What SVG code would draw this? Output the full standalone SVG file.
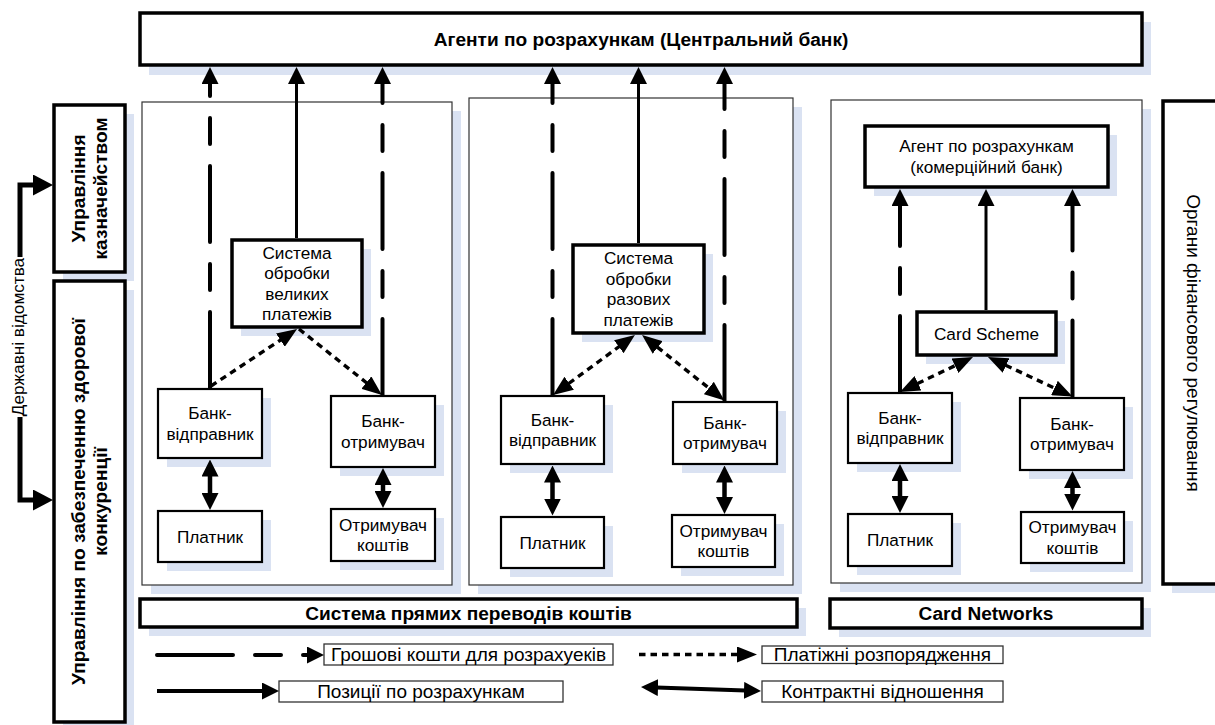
<svg xmlns="http://www.w3.org/2000/svg" width="1215" height="725" viewBox="0 0 1215 725">
<defs>
<style>
text{font-family:"Liberation Sans",Arial,sans-serif;fill:#000}
.t{font-size:17.2px;text-anchor:middle}
.b{font-size:19.1px;font-weight:bold;text-anchor:middle}
.lt{font-size:19px;text-anchor:middle}
.sh{fill:#DAE2F2}
.panel{fill:#fff;stroke:#333;stroke-width:1.2}
.thick{fill:#fff;stroke:#000;stroke-width:3.5}
.thin{fill:#fff;stroke:#000;stroke-width:2.2}
.leg{fill:#fff;stroke:#333;stroke-width:1.3}
.solid{stroke:#000;stroke-width:3;fill:none}
.dash{stroke:#000;stroke-width:4;fill:none;stroke-dasharray:76 22 26 22;stroke-linecap:round}
.dot{stroke:#000;stroke-width:3.4;fill:none;stroke-dasharray:6.5 5}
.dbl{stroke:#000;stroke-width:4.5;fill:none}
.brk{stroke:#000;stroke-width:5;fill:none}
</style>
<marker id="ah" viewBox="0 0 17 17" refX="9" refY="8.5" markerWidth="17" markerHeight="17" markerUnits="userSpaceOnUse" orient="auto-start-reverse"><path d="M0,0 L17,8.5 L0,17 z" fill="#000"/></marker>
<marker id="ahd" viewBox="0 0 20 16" refX="12" refY="8" markerWidth="20" markerHeight="16" markerUnits="userSpaceOnUse" orient="auto-start-reverse"><path d="M0,0 L20,8 L0,16 z" fill="#000"/></marker>
<marker id="ahb" viewBox="0 0 20 21" refX="12" refY="10.5" markerWidth="20" markerHeight="21" markerUnits="userSpaceOnUse" orient="auto-start-reverse"><path d="M0,0 L20,10.5 L0,21 z" fill="#000"/></marker>
</defs>
<rect width="1215" height="725" fill="#fff"/>

<!-- panels -->
<g id="panel1"><rect class="sh" x="151" y="111" width="310" height="483"/><rect class="panel" x="142" y="102" width="310" height="483"/></g>
<g id="panel2"><rect class="sh" x="478" y="107" width="324" height="487"/><rect class="panel" x="469" y="98" width="324" height="487"/></g>
<g id="panel3"><rect class="sh" x="840" y="109" width="311" height="483"/><rect class="panel" x="831" y="100" width="311" height="483"/></g>

<g id="central-bank"><rect class="sh" x="149" y="22" width="1002" height="53"/><rect class="thick" x="140" y="13" width="1002" height="52"/><text class="b" x="641" y="45.5">Агенти по розрахункам (Центральний банк)</text></g>

<g id="treasury"><rect class="sh" x="63" y="114" width="71" height="167"/><rect class="thick" x="54" y="105" width="71" height="167"/><text class="b" transform="translate(89.5,188.5) rotate(-90)"><tspan x="0" y="-4.5">Управління</tspan><tspan x="0" y="17.5">казначейством</tspan></text></g>
<g id="competition"><rect class="sh" x="63" y="290" width="71" height="441"/><rect class="thick" x="54" y="281" width="71" height="441"/><text class="b" transform="translate(89.5,501.5) rotate(-90)"><tspan x="0" y="-4.5">Управління по забезпеченню здорової</tspan><tspan x="0" y="17.5">конкуренції</tspan></text></g>
<g id="regulators"><rect class="sh" x="1172" y="110" width="70" height="483"/><rect class="thick" x="1163" y="101" width="70" height="483"/><text class="lt" transform="translate(1187,343) rotate(90)" x="0" y="0">Органи фінансового регулювання</text></g>
<g id="gov"><text class="t" transform="translate(24,337) rotate(-90)" x="0" y="0">Державні відомства</text></g>

<!-- panel 1 nodes -->
<g id="lvps"><rect class="sh" x="241" y="249" width="130" height="87"/><rect class="thick" x="232" y="240" width="130" height="87"/><text class="t"><tspan x="297" y="258.6">Система</tspan><tspan x="297" y="279.2">обробки</tspan><tspan x="297" y="299.8">великих</tspan><tspan x="297" y="320.4">платежів</tspan></text></g>
<g id="sender1"><rect class="sh" x="167" y="398" width="104" height="69"/><rect class="thin" x="158" y="389" width="104" height="69"/><text class="t"><tspan x="210" y="419.2">Банк-</tspan><tspan x="210" y="439.8">відправник</tspan></text></g>
<g id="receiver1"><rect class="sh" x="340" y="405" width="104" height="71"/><rect class="thin" x="331" y="396" width="104" height="71"/><text class="t"><tspan x="383" y="427.2">Банк-</tspan><tspan x="383" y="447.8">отримувач</tspan></text></g>
<g id="payer1"><rect class="sh" x="167" y="520" width="104" height="51"/><rect class="thin" x="158" y="511" width="104" height="51"/><text class="t" x="210" y="542.5">Платник</text></g>
<g id="payee1"><rect class="sh" x="340" y="518" width="104" height="52"/><rect class="thin" x="331" y="509" width="104" height="52"/><text class="t"><tspan x="383" y="530.7">Отримувач</tspan><tspan x="383" y="551.3">коштів</tspan></text></g>

<!-- panel 2 nodes -->
<g id="rps"><rect class="sh" x="582" y="254" width="131" height="88"/><rect class="thick" x="573" y="245" width="131" height="88"/><text class="t"><tspan x="638.5" y="264.1">Система</tspan><tspan x="638.5" y="284.7">обробки</tspan><tspan x="638.5" y="305.3">разових</tspan><tspan x="638.5" y="325.9">платежів</tspan></text></g>
<g id="sender2"><rect class="sh" x="510" y="405" width="103" height="68"/><rect class="thin" x="501" y="396" width="103" height="68"/><text class="t"><tspan x="552.5" y="425.7">Банк-</tspan><tspan x="552.5" y="446.3">відправник</tspan></text></g>
<g id="receiver2"><rect class="sh" x="682" y="411" width="104" height="62"/><rect class="thin" x="673" y="402" width="104" height="62"/><text class="t"><tspan x="725" y="428.7">Банк-</tspan><tspan x="725" y="449.3">отримувач</tspan></text></g>
<g id="payer2"><rect class="sh" x="510" y="526" width="103" height="51"/><rect class="thin" x="501" y="517" width="103" height="51"/><text class="t" x="552.5" y="548.5">Платник</text></g>
<g id="payee2"><rect class="sh" x="681" y="524" width="103" height="52"/><rect class="thin" x="672" y="515" width="103" height="52"/><text class="t"><tspan x="723.5" y="536.7">Отримувач</tspan><tspan x="723.5" y="557.3">коштів</tspan></text></g>

<!-- panel 3 nodes -->
<g id="agent"><rect class="sh" x="874" y="135" width="243" height="61"/><rect class="thick" x="865" y="126" width="243" height="61"/><text class="t"><tspan x="986.5" y="152.2">Агент по розрахункам</tspan><tspan x="986.5" y="172.8">(комерційний банк)</tspan></text></g>
<g id="card-scheme"><rect class="sh" x="926" y="321" width="139" height="43"/><rect class="thick" x="917" y="312" width="139" height="43"/><text class="t" x="986.5" y="339.5">Card Scheme</text></g>
<g id="sender3"><rect class="sh" x="857" y="402" width="104" height="70"/><rect class="thin" x="848" y="393" width="104" height="70"/><text class="t"><tspan x="900" y="423.7">Банк-</tspan><tspan x="900" y="444.3">відправник</tspan></text></g>
<g id="receiver3"><rect class="sh" x="1029" y="407" width="104" height="72"/><rect class="thin" x="1020" y="398" width="104" height="72"/><text class="t"><tspan x="1072" y="429.7">Банк-</tspan><tspan x="1072" y="450.3">отримувач</tspan></text></g>
<g id="payer3"><rect class="sh" x="857" y="523" width="104" height="52"/><rect class="thin" x="848" y="514" width="104" height="52"/><text class="t" x="900" y="546">Платник</text></g>
<g id="payee3"><rect class="sh" x="1030" y="521" width="103" height="51"/><rect class="thin" x="1021" y="512" width="103" height="51"/><text class="t"><tspan x="1072.5" y="533.2">Отримувач</tspan><tspan x="1072.5" y="553.8">коштів</tspan></text></g>

<!-- bars -->
<g id="direct-transfer"><rect class="sh" x="149" y="608" width="657" height="28"/><rect class="thick" x="140" y="599" width="657" height="28"/><text class="b" x="468.5" y="619.5">Система прямих переводів коштів</text></g>
<g id="card-networks"><rect class="sh" x="839" y="608" width="312" height="29"/><rect class="thick" x="830" y="599" width="312" height="29"/><text class="b" x="986" y="620">Card Networks</text></g>

<!-- legend -->
<g id="legend">
<rect class="leg" x="324" y="644" width="289" height="21"/><text class="lt" x="468.5" y="661.2">Грошові кошти для розрахуеків</text>
<rect class="leg" x="762" y="646" width="241" height="17.5"/><text class="lt" x="882.5" y="661">Платіжні розпорядження</text>
<rect class="leg" x="279" y="681" width="284" height="21"/><text class="lt" x="421" y="698">Позиції по розрахункам</text>
<rect class="leg" x="762" y="681" width="241" height="21"/><text class="lt" x="882.5" y="698">Контрактні відношення</text>
</g>

<!-- connectors -->
<g id="connectors">
<path class="dash" d="M210,388 V75" marker-end="url(#ah)"/>
<path class="solid" d="M296.5,238 V75" marker-end="url(#ah)"/>
<path class="dash" d="M382.5,395 V75" marker-end="url(#ah)"/>
<path class="dot" d="M211,386 L290.4,333.5" marker-end="url(#ahd)"/>
<path class="dot" d="M299,329 L375.7,390.1" marker-end="url(#ahd)"/>
<path class="dbl" d="M210,467.5 V502" marker-start="url(#ah)" marker-end="url(#ah)"/>
<path class="dbl" d="M383,476 V500" marker-start="url(#ah)" marker-end="url(#ah)"/>

<path class="dash" d="M552.5,395 V75" marker-end="url(#ah)"/>
<path class="solid" d="M638.5,243 V75" marker-end="url(#ah)"/>
<path class="dash" d="M724.5,401 V75" marker-end="url(#ah)"/>
<path class="dot" d="M559.5,390.3 L628.5,339.7" marker-start="url(#ahd)" marker-end="url(#ahd)"/>
<path class="dot" d="M648.3,340 L718.2,395.5" marker-start="url(#ahd)" marker-end="url(#ahd)"/>
<path class="dbl" d="M552.5,473.5 V507.5" marker-start="url(#ah)" marker-end="url(#ah)"/>
<path class="dbl" d="M724.5,473.5 V506" marker-start="url(#ah)" marker-end="url(#ah)"/>

<path class="dash" d="M900,392 V197" marker-end="url(#ah)"/>
<path class="solid" d="M986,310 V197" marker-end="url(#ah)"/>
<path class="dash" d="M1072.5,396.5 V197" marker-end="url(#ah)"/>
<path class="dot" d="M907.2,388.5 L965.8,360.5" marker-start="url(#ahd)" marker-end="url(#ahd)"/>
<path class="dot" d="M995.2,360.4 L1065.3,393.1" marker-start="url(#ahd)" marker-end="url(#ahd)"/>
<path class="dbl" d="M900,472 V505" marker-start="url(#ah)" marker-end="url(#ah)"/>
<path class="dbl" d="M1072.5,479 V502.5" marker-start="url(#ah)" marker-end="url(#ah)"/>

<path class="brk" d="M20,257 V185 H45" marker-end="url(#ahb)"/>
<path class="brk" d="M20,417 V500 H45" marker-end="url(#ahb)"/>

<path class="dash" d="M157,655 H316" marker-end="url(#ah)"/>
<path class="dot" d="M639,654.5 H749" marker-end="url(#ahd)"/>
<path class="solid" style="stroke-width:4" d="M157,691 H271" marker-end="url(#ah)"/>
<path class="dbl" style="stroke-width:4" d="M649,687.3 L753,690.7" marker-start="url(#ah)" marker-end="url(#ah)"/>
</g>
</svg>
